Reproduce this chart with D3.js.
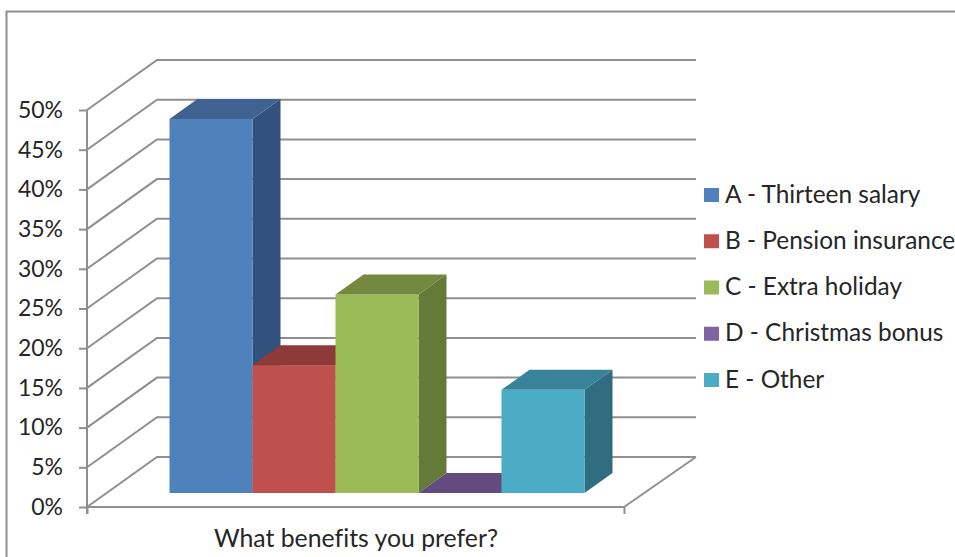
<!DOCTYPE html>
<html>
<head>
<meta charset="utf-8">
<script src="https://cdnjs.cloudflare.com/ajax/libs/d3/7.8.5/d3.min.js"></script>
<style>
  html, body { margin: 0; padding: 0; background: #fff; }
  svg { display: block; }
  text { font-family: Lato, "Open Sans", sans-serif; fill: #262626; font-variant-ligatures: none; }
</style>
</head>
<body>
<svg id="chart" width="955" height="557"></svg>
<script>
// Survey responses, in percent
const categories = ["A - Thirteen salary", "B - Pension insurance", "C - Extra holiday", "D - Christmas bonus", "E - Other"];
const shares = [47.1, 16.1, 25, 0, 13];
const faceColors = ["#4f81bd", "#c0504d", "#9bbb59", "#8064a2", "#4bacc6"];
const topColors = ["#3f6391", "#8e3a38", "#74893f", "#624c7f", "#38829a"];
const sideColors = ["#31527c", "#7f3634", "#667a38", "#503f68", "#306d80"];
const axisTicks = [0, 5, 10, 15, 20, 25, 30, 35, 40, 45, 50];
const axisTitle = "What benefits you prefer?";

const svg = d3.select("#chart");
const gridColor = "#8f8f8f";

// Oblique projection: (wallDx, wallDy) is the full depth of the floor
const wallDx = 70, wallDy = -50, backRightDx = 72;
const y = d3.scaleLinear().domain([0, 50]).range([507, 110]);
const floorX = d3.scaleLinear().domain([0, 1]).range([87, 624]);
const x = d3.scaleBand().domain(categories).range([169.5, 584.5]);

// Depth of the bars and their setback from the front edge, as shares of the floor depth
const barInset = 0.28, barDepth = 0.4;
const dx = wallDx * barDepth, dy = wallDy * barDepth;
const barY = v => y(v) + wallDy * barInset;

const poly = pts => "M" + pts.map(p => p.join(",")).join("L") + "Z";
const polyline = pts => "M" + pts.map(p => p.join(",")).join("L");

// Outer frame, open on the right and at the bottom
svg.append("path")
  .attr("d", polyline([[6.5, 557], [6.5, 11.5], [955, 11.5]]))
  .attr("fill", "none").attr("stroke", gridColor).attr("stroke-width", 2);

// Gridlines running along the side wall and the back wall
const grid = svg.append("g").attr("fill", "none").attr("stroke", gridColor).attr("stroke-width", 2);
grid.selectAll("path").data(axisTicks).join("path")
  .attr("d", t => polyline([
    [floorX(0), y(t)],
    [floorX(0) + wallDx, y(t) + wallDy],
    [floorX(1) + backRightDx, y(t) + wallDy]
  ]));
// Front-right edge of the floor
grid.append("path")
  .attr("d", polyline([[floorX(1) + backRightDx, y(0) + wallDy], [floorX(1), y(0)]]));

// Value axis
const yAxis = svg.append("g")
  .attr("transform", `translate(${floorX(0)},0)`)
  .call(d3.axisLeft(y).tickValues(axisTicks).tickSize(8).tickPadding(16).tickFormat(d => d + "%"));
yAxis.select(".domain").attr("stroke", gridColor).attr("stroke-width", 2).attr("d", `M0,${y(50)}V${y(0) + 7}`);
yAxis.selectAll(".tick line").attr("stroke", gridColor).attr("stroke-width", 2);
yAxis.selectAll(".tick text").attr("font-size", 23).attr("font-family", "Lato").attr("fill", "#262626");

// Category axis
const xAxis = svg.append("g")
  .attr("transform", `translate(0,${y(0)})`)
  .call(d3.axisBottom(floorX).tickValues([0, 1]).tickSize(7).tickFormat(""));
xAxis.select(".domain").attr("stroke", gridColor).attr("stroke-width", 2).attr("d", `M${floorX(0)},0H${floorX(1)}`);
xAxis.selectAll(".tick line").attr("stroke", gridColor).attr("stroke-width", 2);

svg.append("text")
  .attr("x", 356).attr("y", 547)
  .attr("text-anchor", "middle").attr("font-size", 24.8)
  .text(axisTitle);

// Bars, painted left to right so each one overlaps its neighbour's side face
const bars = svg.selectAll("g.bar").data(categories).join("g").attr("class", "bar");
bars.each(function (c, i) {
  const g = d3.select(this);
  const x0 = x(c), x1 = x0 + x.bandwidth();
  const yb = barY(0), yt = barY(shares[i]);
  if (shares[i] > 0) {
    g.append("path").attr("fill", sideColors[i])
      .attr("d", poly([[x1, yt], [x1 + dx, yt + dy], [x1 + dx, yb + dy], [x1, yb]]));
    g.append("rect").attr("fill", faceColors[i])
      .attr("x", x0).attr("y", yt).attr("width", x.bandwidth()).attr("height", yb - yt);
  }
  g.append("path").attr("fill", topColors[i])
    .attr("d", poly([[x0, yt], [x0 + dx, yt + dy], [x1 + dx, yt + dy], [x1, yt]]));
});

// Legend
const legendRow = d3.scalePoint().domain(categories).range([195, 380]);
const legend = svg.selectAll("g.legend").data(categories).join("g")
  .attr("class", "legend")
  .attr("transform", c => `translate(704,${legendRow(c)})`);
legend.append("rect")
  .attr("x", 0).attr("y", -7).attr("width", 15).attr("height", 14)
  .attr("fill", (c, i) => faceColors[i]);
legend.append("text")
  .attr("x", 21).attr("y", 7.5)
  .attr("font-size", 24.4)
  .text(c => c);
</script>
</body>
</html>
